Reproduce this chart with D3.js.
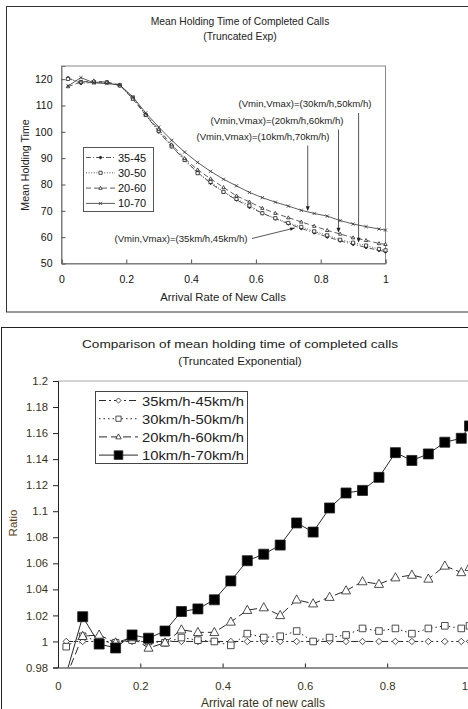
<!DOCTYPE html>
<html><head><meta charset="utf-8">
<script src="https://cdn.jsdelivr.net/npm/d3@7"></script>
<style>body{margin:0;background:#fff}svg{display:block}text{font-family:"Liberation Sans",Arial,sans-serif}</style>
</head><body>
<svg id="c" width="468" height="709"></svg>
<script>
// ---------- DATA ----------
const xRates = [0.02,0.06,0.10,0.14,0.18,0.22,0.26,0.30,0.34,0.38,0.42,0.46,0.50,0.54,0.58,0.62,0.66,0.70,0.74,0.78,0.82,0.86,0.90,0.94,0.98,1.00];
// top chart: mean holding time
const hold3545 = [120.5,118.4,118.8,118.9,117.5,113.0,106.5,100.0,94.4,89.3,84.6,80.5,77.0,74.2,71.4,69.1,67.0,65.1,63.3,61.7,60.1,58.6,57.3,56.1,55.0,54.5];
const hold3050 = [120.1,118.9,118.8,118.8,117.6,113.0,106.4,100.3,94.5,89.3,84.3,81.0,77.2,74.5,72.0,69.1,67.2,65.4,63.9,62.2,60.7,59.0,57.9,56.8,55.5,55.0];
const hold2060 = [117.2,118.9,119.4,118.8,117.9,112.4,106.4,100.9,95.1,89.9,85.6,82.2,78.9,75.7,73.4,71.0,69.1,67.4,65.8,64.2,62.6,61.2,59.8,58.8,57.6,57.3];
const hold1070 = [117.4,120.6,118.6,118.3,117.8,113.3,107.2,101.8,96.8,92.3,88.4,85.0,82.0,79.5,77.0,75.0,73.3,71.8,70.2,69.0,68.0,66.3,65.0,64.0,63.1,62.7];
const topLegend = ["35-45","30-50","20-60","10-70"];
const topYTicks = [50,60,70,80,90,100,110,120];
const topXTicks = [0,0.2,0.4,0.6,0.8,1];
const topNotes = ["(Vmin,Vmax)=(30km/h,50km/h)","(Vmin,Vmax)=(20km/h,60km/h)","(Vmin,Vmax)=(10km/h,70km/h)","(Vmin,Vmax)=(35km/h,45km/h)"];
// arrow targets (rate, holding time) for the notes
const noteRates = [0.917,0.855,0.76,0.72];
const noteHolds = [57.9,61.7,69.8,63.5];
// bottom chart: ratio
const ratio3545 = [1.000,1.000,1.000,1.000,1.000,1.000,1.000,1.000,1.000,1.000,1.000,1.000,1.000,1.000,1.000,1.000,1.000,1.000,1.000,1.000,1.000,1.000,1.000,1.000,1.000,1.000];
const ratio3050 = [0.996,1.004,1.000,0.999,1.001,1.000,0.999,1.003,1.001,1.000,0.997,1.006,1.003,1.004,1.008,1.000,1.003,1.005,1.010,1.008,1.010,1.006,1.010,1.012,1.010,1.012];
const ratio2060 = [0.973,1.004,1.005,0.999,1.003,0.995,0.999,1.009,1.007,1.007,1.015,1.024,1.026,1.020,1.032,1.029,1.034,1.039,1.046,1.044,1.049,1.051,1.048,1.058,1.053,1.057];
const ratio1070 = [0.975,1.019,0.998,0.995,1.005,1.0025,1.008,1.023,1.025,1.032,1.0465,1.062,1.067,1.074,1.091,1.084,1.1025,1.114,1.116,1.126,1.145,1.139,1.144,1.153,1.156,1.1655];
const botLegend = ["35km/h-45km/h","30km/h-50km/h","20km/h-60km/h","10km/h-70km/h"];
const botYTicks = [0.98,1,1.02,1.04,1.06,1.08,1.1,1.12,1.14,1.16,1.18,1.2];
const botXTicks = [0,0.2,0.4,0.6,0.8,1];

const svg = d3.select("#c");

// ---------- TOP CHART ----------
svg.append("rect").attr("x",6.5).attr("y",6.5).attr("width",470).attr("height",305.5)
  .attr("fill","none").attr("stroke","#333");
svg.append("text").attr("x",240).attr("y",25).attr("text-anchor","middle").attr("font-size",10.3).attr("fill","#222").text("Mean Holding Time of Completed Calls");
svg.append("text").attr("x",240).attr("y",40).attr("text-anchor","middle").attr("font-size",10.3).attr("fill","#222").text("(Truncated Exp)");

const tx = d3.scaleLinear().domain([0,1]).range([61.5,385.5]);
const ty = d3.scaleLinear().domain([50,125]).range([263.5,66]);
const tg = svg.append("g");
tg.append("rect").attr("x",tx(0)).attr("y",ty(125)).attr("width",tx(1)-tx(0)).attr("height",ty(50)-ty(125))
  .attr("fill","none").attr("stroke","#888");
const tya = tg.append("g").attr("transform",`translate(${tx(0)},0)`)
  .call(d3.axisRight(ty).tickValues(topYTicks).tickSize(4).tickFormat(d3.format("d")));
tya.select(".domain").attr("stroke","#777");
tya.selectAll(".tick line").attr("stroke","#555");
tya.selectAll(".tick text").attr("x",-9).attr("text-anchor","end").attr("font-size",10.5).attr("fill","#111").attr("font-family",'"Liberation Sans",Arial,sans-serif');
const txa = tg.append("g").attr("transform",`translate(0,${ty(50)})`)
  .call(d3.axisTop(tx).tickValues(topXTicks).tickSize(4).tickFormat(d=>d));
txa.select(".domain").attr("stroke","#777");
txa.selectAll(".tick line").attr("stroke","#555");
txa.selectAll(".tick text").attr("y",19).attr("dy","0").attr("font-size",10.5).attr("fill","#111").attr("font-family",'"Liberation Sans",Arial,sans-serif');
svg.append("text").attr("x",223).attr("y",301).attr("text-anchor","middle").attr("font-size",11.3).attr("fill","#222").text("Arrival Rate of New Calls");
svg.append("text").attr("transform","translate(29,165) rotate(-90)").attr("text-anchor","middle").attr("font-size",10.6).attr("fill","#222").text("Mean Holding Time");

const topSeries = [
  {v:hold3545, dash:"5,2,1,2", mk:"diamond"},
  {v:hold3050, dash:"1,1.6", mk:"square"},
  {v:hold2060, dash:"5,3", mk:"triangle"},
  {v:hold1070, dash:null, mk:"cross"}
];
function marker(g, type, x, y, s, fill){
  if(type==="cross"){
    g.append("path").attr("d",`M${x-s},${y-s}L${x+s},${y+s}M${x-s},${y+s}L${x+s},${y-s}`).attr("stroke","#333").attr("stroke-width",0.8);
    return;
  }
  let d;
  if(type==="diamond") d=`M${x},${y-s}L${x+s},${y}L${x},${y+s}L${x-s},${y}Z`;
  if(type==="square") d=`M${x-s},${y-s}h${2*s}v${2*s}h${-2*s}Z`;
  if(type==="triangle") d=`M${x},${y-s*1.15}L${x+s*1.05},${y+s*0.75}L${x-s*1.05},${y+s*0.75}Z`;
  g.append("path").attr("d",d).attr("fill",fill).attr("stroke","#222").attr("stroke-width",0.8);
}
const tline = d3.line().x((d,i)=>tx(xRates[i])).y(d=>ty(d));
topSeries.forEach(s=>{
  tg.append("path").attr("d",tline(s.v)).attr("fill","none").attr("stroke","#333").attr("stroke-width",0.8)
    .attr("stroke-dasharray",s.dash);
  s.v.forEach((d,i)=>marker(tg,s.mk,tx(xRates[i]),ty(d),1.6,s.mk==="diamond"?"#222":"#fff"));
});
// top legend
tg.append("rect").attr("x",83.5).attr("y",147.5).attr("width",70).attr("height",64).attr("fill","#fff").attr("stroke","#555");
topLegend.forEach((t,i)=>{
  const y = 157.5 + i*15.3;
  tg.append("line").attr("x1",86).attr("x2",115).attr("y1",y).attr("y2",y).attr("stroke","#333").attr("stroke-width",0.8).attr("stroke-dasharray",topSeries[i].dash);
  marker(tg,topSeries[i].mk,100.5,y,1.6,topSeries[i].mk==="diamond"?"#222":"#fff");
  tg.append("text").attr("x",118).attr("y",y+4).attr("font-size",11).attr("fill","#111").text(t);
});
// notes
const noteText = [[305,107],[277,123.5],[263,139.5]];
[0,1,2].forEach(i=>{
  const ax = tx(noteRates[i]), ay = ty(noteHolds[i]);
  tg.append("text").attr("x",noteText[i][0]).attr("y",noteText[i][1]).attr("text-anchor","middle").attr("font-size",8.6)
    .attr("textLength",133).attr("lengthAdjust","spacingAndGlyphs").attr("fill","#222").text(topNotes[i]);
  tg.append("line").attr("x1",ax).attr("x2",ax).attr("y1",noteText[i][1]+6).attr("y2",ay-3).attr("stroke","#444").attr("stroke-width",0.9);
  tg.append("path").attr("d",`M${ax-2},${ay-5}L${ax+2},${ay-5}L${ax},${ay}Z`).attr("fill","#222");
});
{
  const ax = tx(noteRates[3]), ay = ty(noteHolds[3]);
  tg.append("text").attr("x",181).attr("y",242).attr("text-anchor","middle").attr("font-size",8.6)
    .attr("textLength",133).attr("lengthAdjust","spacingAndGlyphs").attr("fill","#222").text(topNotes[3]);
  const sx=252, sy=238.5;
  tg.append("line").attr("x1",sx).attr("y1",sy).attr("x2",ax).attr("y2",ay).attr("stroke","#444").attr("stroke-width",0.9);
  const ang = Math.atan2(ay-sy, ax-sx);
  const p = (r,a)=>[ax - r*Math.cos(ang+a), ay - r*Math.sin(ang+a)];
  const a1=p(5,0.35), a2=p(5,-0.35);
  tg.append("path").attr("d",`M${ax},${ay}L${a1[0]},${a1[1]}L${a2[0]},${a2[1]}Z`).attr("fill","#222");
}

// ---------- BOTTOM CHART ----------
svg.append("rect").attr("x",1.5).attr("y",327.5).attr("width",480).attr("height",400)
  .attr("fill","none").attr("stroke","#222");
svg.append("text").attr("x",240).attr("y",348).attr("text-anchor","middle").attr("font-size",11.6).attr("fill","#222")
  .attr("textLength",316).attr("lengthAdjust","spacingAndGlyphs").text("Comparison of mean holding time of completed calls");
svg.append("text").attr("x",240).attr("y",365).attr("text-anchor","middle").attr("font-size",11.6).attr("fill","#222").text("(Truncated Exponential)");

const bx = d3.scaleLinear().domain([0,1]).range([58,469.5]);
const by = d3.scaleLinear().domain([0.98,1.2]).range([667.5,381]);
const bg = svg.append("g");
svg.append("clipPath").attr("id","bclip").append("rect").attr("x",bx(0)).attr("y",by(1.2)).attr("width",bx(1)-bx(0)+10).attr("height",by(0.98)-by(1.2));
bg.append("line").attr("x1",bx(0)).attr("x2",bx(1)+10).attr("y1",by(1.2)).attr("y2",by(1.2)).attr("stroke","#aaa").attr("stroke-width",1.2);
const bya = bg.append("g").attr("transform",`translate(${bx(0)},0)`)
  .call(d3.axisLeft(by).tickValues(botYTicks).tickSize(5).tickFormat(d=>String(+d.toFixed(2))));
bya.select(".domain").attr("stroke","#222");
bya.selectAll(".tick line").attr("stroke","#222");
bya.selectAll(".tick text").attr("x",-10).attr("font-size",11.3).attr("fill","#3a3320").attr("font-family",'"Liberation Sans",Arial,sans-serif');
const bxa = bg.append("g").attr("transform",`translate(0,${by(0.98)})`)
  .call(d3.axisTop(bx).tickValues(botXTicks).tickSize(4).tickFormat(d=>d));
bxa.select(".domain").attr("stroke","#222");
bxa.selectAll(".tick line").attr("stroke","#222");
bxa.selectAll(".tick text").attr("y",22).attr("dy","0").attr("font-size",11.3).attr("fill","#3a3320").attr("font-family",'"Liberation Sans",Arial,sans-serif')
  .filter(d=>d===1).attr("text-anchor","end").attr("x",-2);
svg.append("text").attr("x",263).attr("y",707).attr("text-anchor","middle").attr("font-size",12).attr("fill","#3a3320").text("Arrival rate of new calls");
svg.append("text").attr("transform","translate(17,523) rotate(-90)").attr("text-anchor","middle").attr("font-size",11.5).attr("fill","#5a4020").text("Ratio");

const botSeries = [
  {v:ratio3545, dash:"7,3,2,3", mk:"diamond", s:3.2, fill:"#fff"},
  {v:ratio3050, dash:"1.5,3", mk:"square", s:3.3, fill:"#fff"},
  {v:ratio2060, dash:"8,4", mk:"triangle", s:4.3, fill:"#fff"},
  {v:ratio1070, dash:null, mk:"square", s:5, fill:"#000"}
];
const bline = d3.line().x((d,i)=>bx(xRates[i])).y(d=>by(d));
const bplot = bg.append("g").attr("clip-path","url(#bclip)");
botSeries.forEach(s=>{
  bplot.append("path").attr("d",bline(s.v)).attr("fill","none").attr("stroke","#111").attr("stroke-width",0.9)
    .attr("stroke-dasharray",s.dash);
});
botSeries.forEach(s=>{
  s.v.forEach((d,i)=>{ if(d>=0.98) marker(bplot,s.mk,bx(xRates[i]),by(d),s.s,s.fill); });
});
// bottom legend
bg.append("rect").attr("x",95.5).attr("y",391.5).attr("width",152).attr("height",72).attr("fill","#fff").attr("stroke","#444");
botLegend.forEach((t,i)=>{
  const y = 400.5 + i*18.2;
  const s = botSeries[i];
  bg.append("line").attr("x1",99).attr("x2",138).attr("y1",y).attr("y2",y).attr("stroke","#111").attr("stroke-width",0.9).attr("stroke-dasharray",s.dash);
  marker(bg,s.mk,118.5,y,s.mk==="square"&&s.fill==="#000"?4.3:2.6,s.fill);
  bg.append("text").attr("x",142).attr("y",y+5).attr("font-size",13.5).attr("fill","#222")
    .attr("textLength",102).attr("lengthAdjust","spacingAndGlyphs").text(t);
});
</script>
</body></html>
